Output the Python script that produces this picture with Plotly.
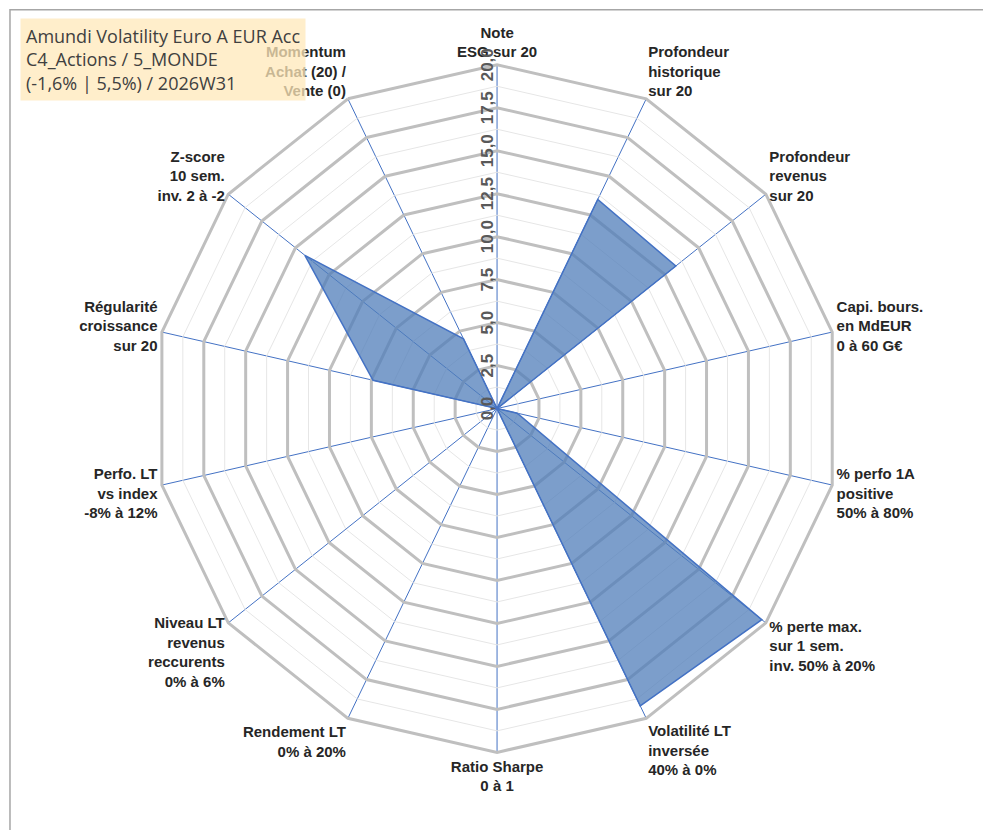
import plotly.graph_objects as go

categories = [
    "Note<br>ESG sur 20",
    "Profondeur<br>historique<br>sur 20",
    "Profondeur<br>revenus<br>sur 20",
    "Capi. bours.<br>en MdEUR<br>0 à 60 G€",
    "% perfo 1A<br>positive<br>50% à 80%",
    "% perte max.<br>sur 1 sem.<br>inv. 50% à 20%",
    "Volatilité LT<br>inversée<br>40% à 0%",
    "Ratio Sharpe<br>0 à 1",
    "Rendement LT<br>0% à 20%",
    "Niveau LT<br>revenus<br>reccurents<br>0% à 6%",
    "Perfo. LT<br>vs index<br>-8% à 12%",
    "Régularité<br>croissance<br>sur 20",
    "Z-score<br>10 sem.<br>inv. 2 à -2",
    "Momentum<br>Achat (20) /<br>Vente (0)",
]
values = [0, 13.5, 13.3, 0, 1.2, 19.7, 19.2, 0, 0, 0, 0, 7.4, 14.3, 4.5]
major_rings = [0, 2.5, 5, 7.5, 10, 12.5, 15, 17.5, 20]
minor_rings = [1.25, 3.75, 6.25, 8.75, 11.25, 13.75, 16.25, 18.75]

fig = go.Figure()
for r in minor_rings:
    fig.add_trace(go.Scatterpolar(r=[r] * (len(categories) + 1), theta=categories + [categories[0]],
                                  mode="lines", line=dict(color="#E6E6E6", width=1),
                                  hoverinfo="skip", showlegend=False))
fig.add_trace(go.Scatterpolar(r=values + [values[0]], theta=categories + [categories[0]],
                              mode="lines", fill="toself", fillcolor="rgba(80,125,185,0.75)",
                              line=dict(color="#4472C4", width=1.5), showlegend=False))

fig.update_layout(
    width=991, height=830, paper_bgcolor="white", separators=", ",
    margin=dict(l=0, r=0, t=0, b=0), showlegend=False,
    font=dict(family="Liberation Sans, Arial", color="#404040"),
    polar=dict(
        domain=dict(x=[0.146, 0.841], y=[0.1032, 0.9316]),
        bgcolor="white",
        gridshape="linear",
        radialaxis=dict(range=[0, 20], tickvals=major_rings,
                        ticktext=["<b>%s</b>" % f"{v:.1f}".replace(".", ",") for v in major_rings],
                        angle=90, tickangle=0, side="counterclockwise", showline=False,
                        gridcolor="#BFBFBF", gridwidth=3, ticks="",
                        tickfont=dict(size=17, color="#595959"),
                        layer="above traces"),
        angularaxis=dict(direction="clockwise", rotation=90, gridcolor="#4472C4", gridwidth=1.2,
                         linecolor="#BFBFBF", linewidth=3, ticks="",
                         tickvals=categories,
                         ticktext=["<b>%s</b>" % c for c in categories],
                         tickfont=dict(size=15, color="#262626"),
                         layer="above traces"),
    ),
    annotations=[dict(
        x=0.012, y=0.988, xref="paper", yref="paper", xanchor="left", yanchor="top", align="left",
        text="Amundi Volatility Euro A EUR Acc<br>C4_Actions / 5_MONDE<br>(-1,6% | 5,5%) / 2026W31",
        showarrow=False, bgcolor="rgba(255,232,185,0.75)", borderpad=5,
        font=dict(family="Open Sans", size=18, color="#404040"))],
    shapes=[dict(type="rect", xref="paper", yref="paper", x0=0.002, y0=0.003, x1=0.997, y1=0.998,
                 line=dict(color="#A6A6A6", width=1.5))],
)
fig.write_html("out.html")
